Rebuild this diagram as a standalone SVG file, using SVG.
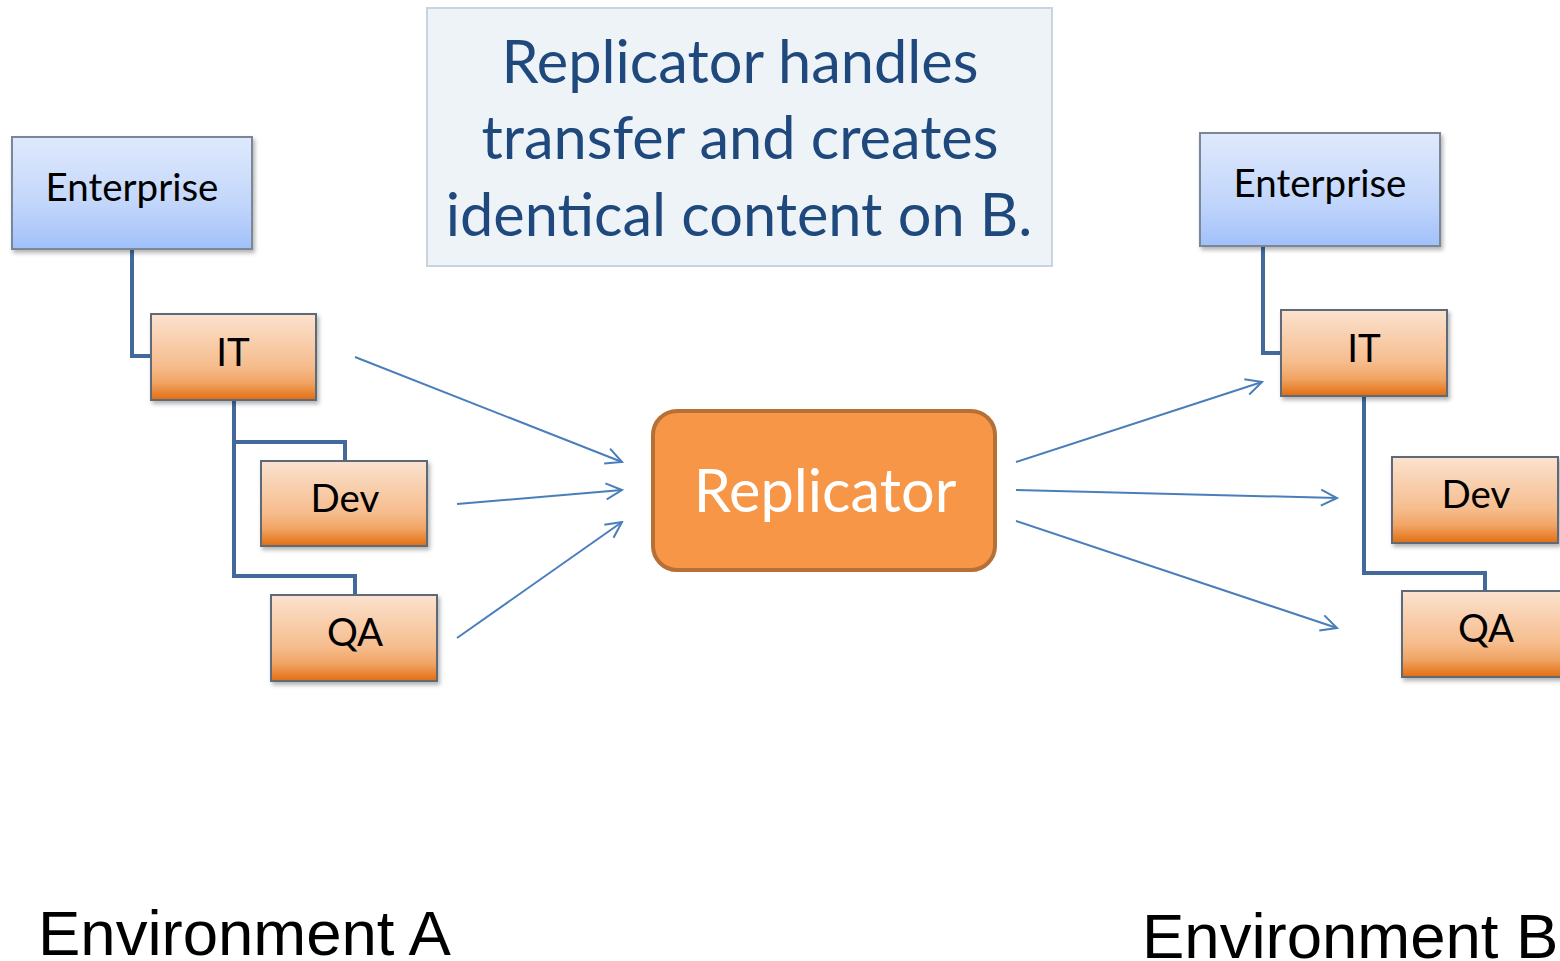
<svg xmlns="http://www.w3.org/2000/svg" width="1560" height="961" viewBox="0 0 1560 961">
<defs>
<linearGradient id="gBlue" x1="0" y1="0" x2="0" y2="1">
<stop offset="0" stop-color="#dfe9fc"/>
<stop offset="0.6" stop-color="#c2d6fb"/>
<stop offset="1" stop-color="#a1c0fa"/>
</linearGradient>
<linearGradient id="gOrange" x1="0" y1="0" x2="0" y2="1">
<stop offset="0" stop-color="#fbe2cf"/>
<stop offset="0.6" stop-color="#f6bd8e"/>
<stop offset="0.8" stop-color="#f0a463"/>
<stop offset="1" stop-color="#e26d10"/>
</linearGradient>
<filter id="sh" x="-10%" y="-10%" width="130%" height="130%">
<feDropShadow dx="2" dy="3" stdDeviation="2" flood-color="#000" flood-opacity="0.3"/>
</filter>
<marker id="arr" viewBox="0 0 20 20" refX="18" refY="10" markerWidth="20" markerHeight="20" markerUnits="userSpaceOnUse" orient="auto">
<path d="M2,2 L18,10 L2,18" fill="none" stroke="#4a7ebb" stroke-width="2"/>
</marker>
<style>
.blue{fill:url(#gBlue);stroke:#7a8796;stroke-width:2;filter:url(#sh)}
.orange{fill:url(#gOrange);stroke:#5f6b78;stroke-width:2;filter:url(#sh)}
.lbl{font-family:Lato,"Open Sans",sans-serif;font-size:38.5px;fill:#000;text-anchor:middle}
.tree{fill:none;stroke:#43699c;stroke-width:4}
.arrow{fill:none;stroke:#4a7ebb;stroke-width:2;marker-end:url(#arr)}
.info{font-family:Lato,"Open Sans",sans-serif;font-size:59.5px;fill:#1f497d;text-anchor:middle}
.env{font-family:"Liberation Sans",Arial,sans-serif;font-size:63.5px;fill:#000}
</style>
</defs>
<rect width="1560" height="961" fill="#fff"/>

<g id="tree-connectors">
<path class="tree" d="M132,249 V356 H151"/>
<path class="tree" d="M234,400 V576 H355 V595 M234,442 H345 V461"/>
<path class="tree" d="M1263,246 V353 H1281"/>
<path class="tree" d="M1364,396 V573 H1485 V591"/>
</g>

<g id="infobox">
<rect x="427" y="8" width="625" height="258" fill="#eef3f8" stroke="#c8d4e2" stroke-width="2"/>
<text class="info" x="740" y="83">Replicator handles</text>
<text class="info" x="740" y="159">transfer and creates</text>
<text class="info" x="739" y="236">identical content on B.</text>
</g>

<g id="a-enterprise"><rect class="blue" x="12" y="137" width="240" height="112"/><text class="lbl" x="132" y="201">Enterprise</text></g>
<g id="a-it"><rect class="orange" x="151" y="314" width="165" height="86"/><text class="lbl" x="233" y="366">IT</text></g>
<g id="a-dev"><rect class="orange" x="261" y="461" width="166" height="85"/><text class="lbl" x="345" y="512">Dev</text></g>
<g id="a-qa"><rect class="orange" x="271" y="595" width="166" height="86"/><text class="lbl" x="355" y="646">QA</text></g>

<g id="b-enterprise"><rect class="blue" x="1200" y="133" width="240" height="113"/><text class="lbl" x="1320" y="197">Enterprise</text></g>
<g id="b-it"><rect class="orange" x="1281" y="310" width="166" height="86"/><text class="lbl" x="1364" y="362">IT</text></g>
<g id="b-dev"><rect class="orange" x="1392" y="457" width="166" height="86"/><text class="lbl" x="1476" y="508">Dev</text></g>
<g id="b-qa"><rect class="orange" x="1402" y="591" width="166" height="86"/><text class="lbl" x="1486" y="642">QA</text></g>

<g id="replicator">
<rect x="653" y="411" width="342" height="159" rx="24" fill="#f79646" stroke="#b66f35" stroke-width="4"/>
<text x="825" y="512" font-family="Lato,'Open Sans',sans-serif" font-size="59.5" fill="#fff" text-anchor="middle">Replicator</text>
</g>

<g id="arrows">
<line class="arrow" x1="355" y1="357" x2="622" y2="462"/>
<line class="arrow" x1="457" y1="504" x2="622" y2="490"/>
<line class="arrow" x1="457" y1="638" x2="622" y2="522"/>
<line class="arrow" x1="1016" y1="462" x2="1262" y2="382"/>
<line class="arrow" x1="1016" y1="490" x2="1337" y2="498"/>
<line class="arrow" x1="1016" y1="521" x2="1337" y2="628"/>
</g>

<text id="env-a" class="env" x="38" y="955">Environment A</text>
<text id="env-b" class="env" x="1142" y="958">Environment B</text>
</svg>
